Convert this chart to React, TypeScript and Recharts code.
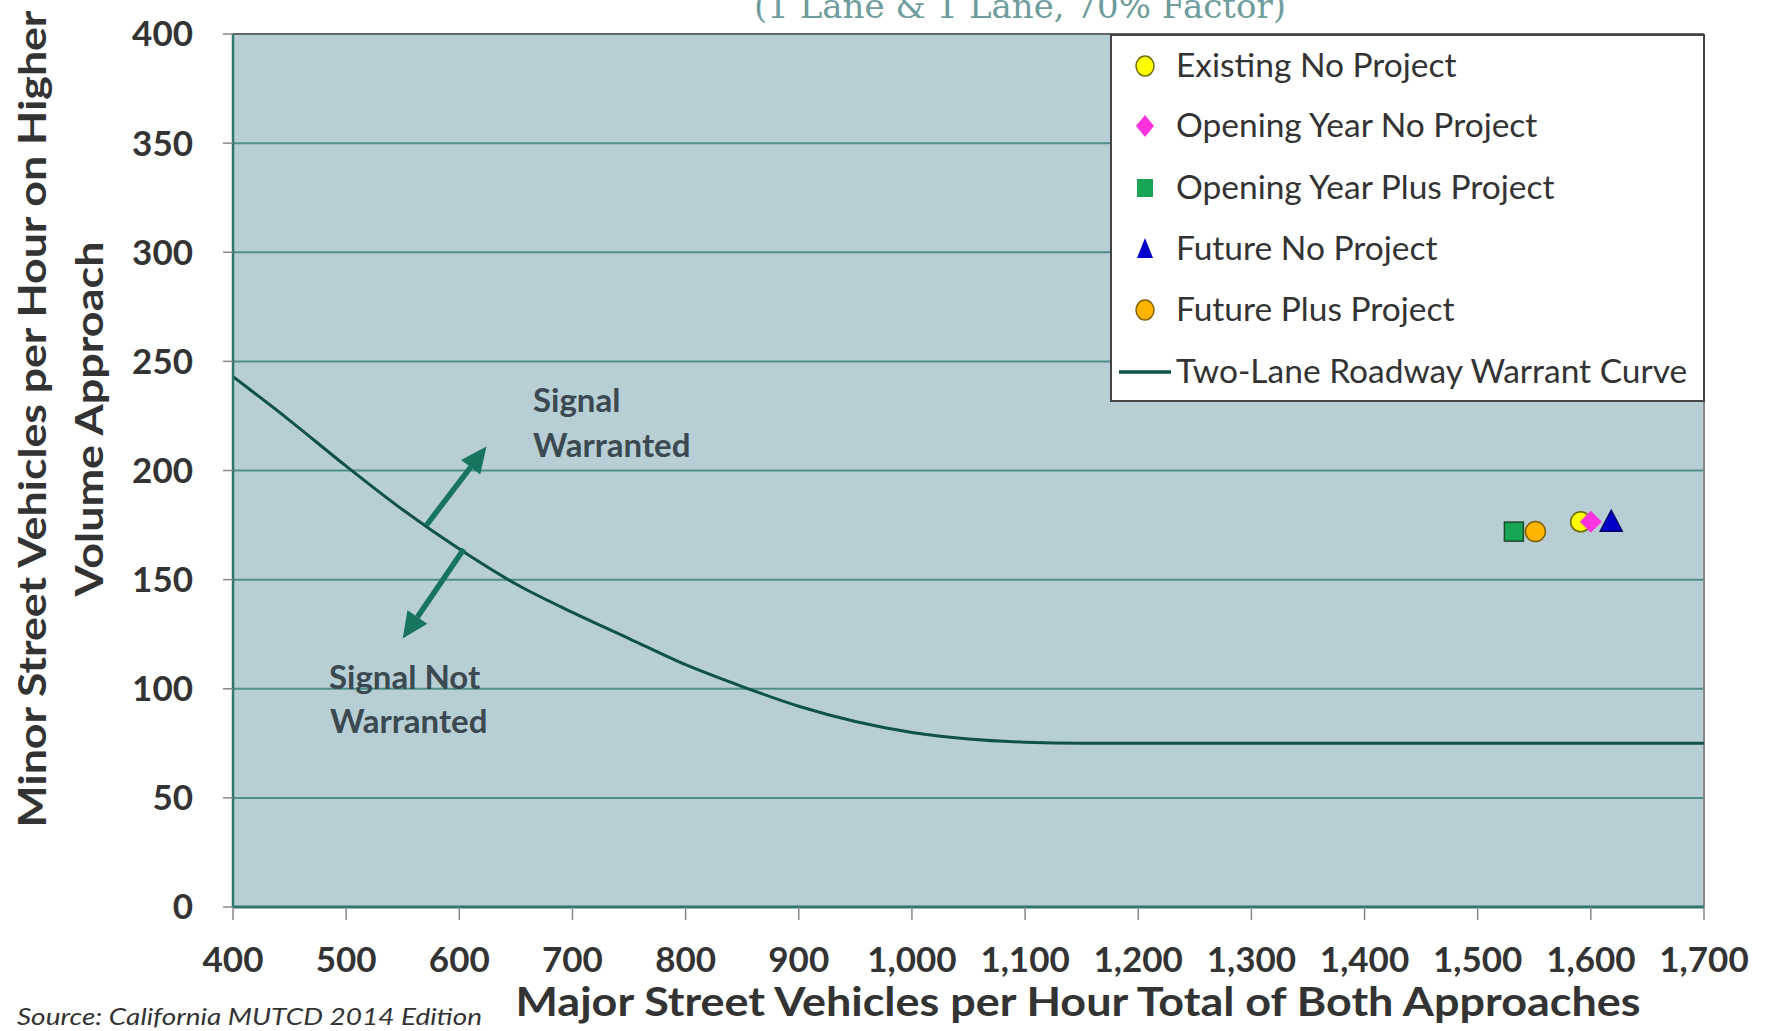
import React from "react";
import {
  CartesianGrid,
  ComposedChart,
  Line,
  ReferenceLine,
  Scatter,
  XAxis,
  YAxis,
} from "recharts";

// axis ticks
const X_TICKS = [400, 500, 600, 700, 800, 900, 1000, 1100, 1200, 1300, 1400, 1500, 1600, 1700];
const Y_TICKS = [0, 50, 100, 150, 200, 250, 300, 350, 400];

// warrant curve
const CURVE_X = [400, 450, 500, 550, 600, 650, 700, 750, 800, 850, 900, 950, 1000, 1050, 1100, 1150, 1700];
const CURVE_Y = [243, 223, 202, 182, 164, 148, 135, 123, 111, 101, 92, 85, 80, 77, 75.5, 75, 75];

// study intersection volumes
const existingNoProject = [{ x: 1591, y: 176.5 }];
const openingNoProject = [{ x: 1600, y: 176.5 }];
const openingPlusProject = [{ x: 1532, y: 172 }];
const futureNoProject = [{ x: 1618, y: 176 }];
const futurePlusProject = [{ x: 1551, y: 172 }];

// annotation arrows (from, to) in data units
const ARROW_UP = [{ x: 571, y: 175 }, { x: 624, y: 211 }];
const ARROW_DOWN = [{ x: 604, y: 164 }, { x: 550, y: 123 }];

const curve = CURVE_X.map((x, i) => ({ x, y: CURVE_Y[i] }));

const BG = "#b8ced5";
const GRID = "#4f8f8a";
const AXIS = "#2e756d";
const CURVE = "#0f5249";
const ARROW = "#17745f";
const TEXT = "#333333";
const FONT = "Lato, 'Open Sans', sans-serif";

const tickStyle = { fontSize: 35, fontWeight: 700, fill: TEXT, fontFamily: FONT };

function circleShape(fill: string, stroke: string) {
  return (p: any) => (
    <circle cx={p.cx} cy={p.cy} r={10} fill={fill} stroke={stroke} strokeWidth={1.5} />
  );
}

function squareShape(p: any) {
  return (
    <rect x={p.cx - 9.5} y={p.cy - 9.5} width={19} height={19} fill="#18a556" stroke="#1b4a2b" strokeWidth={1.5} />
  );
}

function diamondShape(p: any) {
  const r = 11;
  return (
    <polygon
      points={`${p.cx},${p.cy - r} ${p.cx + r},${p.cy} ${p.cx},${p.cy + r} ${p.cx - r},${p.cy}`}
      fill="#ff33dd"
    />
  );
}

function triangleShape(p: any) {
  const h = 21;
  return (
    <polygon
      points={`${p.cx},${p.cy - h * 0.6} ${p.cx + 11},${p.cy + h * 0.4} ${p.cx - 11},${p.cy + h * 0.4}`}
      fill="#0000cc"
      stroke="#00006a"
      strokeWidth={1.5}
    />
  );
}

function arrowShape(p: any) {
  const { x1, y1, x2, y2 } = p;
  const ang = Math.atan2(y2 - y1, x2 - x1);
  const len = 26;
  const w = 12;
  const bx = x2 - len * Math.cos(ang);
  const by = y2 - len * Math.sin(ang);
  const nx = -Math.sin(ang) * w;
  const ny = Math.cos(ang) * w;
  return (
    <g>
      <line x1={x1} y1={y1} x2={bx} y2={by} stroke={ARROW} strokeWidth={5.5} />
      <polygon points={`${x2},${y2} ${bx + nx},${by + ny} ${bx - nx},${by - ny}`} fill={ARROW} />
    </g>
  );
}

const legendItems = [
  { label: "Existing No Project", kind: "circle", fill: "#ffff00", stroke: "#6b6b00" },
  { label: "Opening Year No Project", kind: "diamond", fill: "#ff33dd", stroke: "none" },
  { label: "Opening Year Plus Project", kind: "square", fill: "#18a556", stroke: "#1b4a2b" },
  { label: "Future No Project", kind: "triangle", fill: "#0000cc", stroke: "#00006a" },
  { label: "Future Plus Project", kind: "circle", fill: "#ffb400", stroke: "#806000" },
  { label: "Two-Lane Roadway Warrant Curve", kind: "line", fill: CURVE, stroke: CURVE },
];
const LEGEND_ROWS = [32, 92, 154, 215, 276, 338];

function LegendIcon({ kind, fill, stroke, cx, cy }: any) {
  if (kind === "circle") return <ellipse cx={cx} cy={cy} rx={9} ry={10} fill={fill} stroke={stroke} strokeWidth={1.5} />;
  if (kind === "square") return <rect x={cx - 8} y={cy - 9} width={16} height={18} fill={fill} />;
  if (kind === "diamond")
    return <polygon points={`${cx},${cy - 11} ${cx + 9},${cy} ${cx},${cy + 11} ${cx - 9},${cy}`} fill={fill} />;
  if (kind === "triangle")
    return <polygon points={`${cx},${cy - 11} ${cx + 8},${cy + 9} ${cx - 8},${cy + 9}`} fill={fill} />;
  return <line x1={cx - 26} x2={cx + 26} y1={cy} y2={cy} stroke={stroke} strokeWidth={3.5} />;
}

export default function App() {
  return (
    <div style={{ position: "absolute", left: 0, top: 0, width: 1767, height: 1031, background: "#fff" }}>
      <ComposedChart width={1767} height={1031} margin={{ top: 34, right: 63, bottom: 64, left: 153 }}>
        <CartesianGrid horizontal vertical={false} fill={BG} stroke={GRID} strokeWidth={2} />
        <XAxis
          type="number"
          dataKey="x"
          domain={[400, 1700]}
          ticks={X_TICKS}
          allowDataOverflow
          height={60}
          tick={tickStyle}
          tickFormatter={(v) => Number(v).toLocaleString("en-US")}
          axisLine={{ stroke: AXIS, strokeWidth: 3 }}
          tickLine={{ stroke: "#888", strokeWidth: 1.5 }}
          tickSize={13}
          tickMargin={27}
        />
        <YAxis
          type="number"
          dataKey="y"
          domain={[0, 400]}
          ticks={Y_TICKS}
          allowDataOverflow
          width={80}
          tick={tickStyle}
          axisLine={{ stroke: AXIS, strokeWidth: 2.5 }}
          tickLine={{ stroke: "#888", strokeWidth: 1.5 }}
          tickSize={10}
          tickMargin={30}
        />
        <ReferenceLine y={400} stroke="#666" strokeWidth={2} />
        <ReferenceLine x={1700} stroke="#888" strokeWidth={2} />
        <Line
          data={curve}
          dataKey="y"
          type="monotone"
          stroke={CURVE}
          strokeWidth={3}
          dot={false}
          isAnimationActive={false}
        />
        <ReferenceLine segment={ARROW_UP} shape={arrowShape} />
        <ReferenceLine segment={ARROW_DOWN} shape={arrowShape} />
        <Scatter data={existingNoProject} dataKey="y" shape={circleShape("#ffff00", "#6b6b00")} isAnimationActive={false} />
        <Scatter data={openingNoProject} dataKey="y" shape={diamondShape} isAnimationActive={false} />
        <Scatter data={openingPlusProject} dataKey="y" shape={squareShape} isAnimationActive={false} />
        <Scatter data={futureNoProject} dataKey="y" shape={triangleShape} isAnimationActive={false} />
        <Scatter data={futurePlusProject} dataKey="y" shape={circleShape("#ffb400", "#806000")} isAnimationActive={false} />
      </ComposedChart>

      <svg
        width={1767}
        height={1031}
        style={{ position: "absolute", left: 0, top: 0, pointerEvents: "none" }}
      >
        <text x={1020} y={18} textAnchor="middle" fontFamily="'DejaVu Serif', serif" fontSize={34} fill="#6f9c9c">
          (1 Lane &amp; 1 Lane, 70% Factor)
        </text>

        <g fontFamily={FONT} fontWeight={700} fill={TEXT}>
          <text
            transform="translate(46,419) rotate(-90)"
            textAnchor="middle"
            fontSize={38}
            textLength={817}
            lengthAdjust="spacingAndGlyphs"
          >
            Minor Street Vehicles per Hour on Higher
          </text>
          <text
            transform="translate(103,419) rotate(-90)"
            textAnchor="middle"
            fontSize={38}
            textLength={355}
            lengthAdjust="spacingAndGlyphs"
          >
            Volume Approach
          </text>
          <text x={1078} y={1016} textAnchor="middle" fontSize={40} textLength={1125} lengthAdjust="spacingAndGlyphs">
            Major Street Vehicles per Hour Total of Both Approaches
          </text>
        </g>

        <text
          x={17}
          y={1025}
          fontFamily={FONT}
          fontStyle="italic"
          fontSize={24}
          fill={TEXT}
          textLength={465}
          lengthAdjust="spacingAndGlyphs"
        >
          Source: California MUTCD 2014 Edition
        </text>

        <g fontFamily={FONT} fontWeight={700} fontSize={33} fill="#3b4950">
          <text x={533} y={412}>Signal</text>
          <text x={533} y={457}>Warranted</text>
          <text x={329} y={689}>Signal Not</text>
          <text x={330} y={733}>Warranted</text>
        </g>

        <g transform="translate(1110,34)">
          <rect x={1} y={1} width={593} height={366} fill="#fff" stroke="#444" strokeWidth={2} />
          {legendItems.map((it, i) => (
            <g key={it.label}>
              <LegendIcon kind={it.kind} fill={it.fill} stroke={it.stroke} cx={35} cy={LEGEND_ROWS[i]} />
              <text
                x={66}
                y={LEGEND_ROWS[i] + 11}
                fontFamily={FONT}
                fontSize={33.5}
                fill={TEXT}
              >
                {it.label}
              </text>
            </g>
          ))}
        </g>
      </svg>
    </div>
  );
}
